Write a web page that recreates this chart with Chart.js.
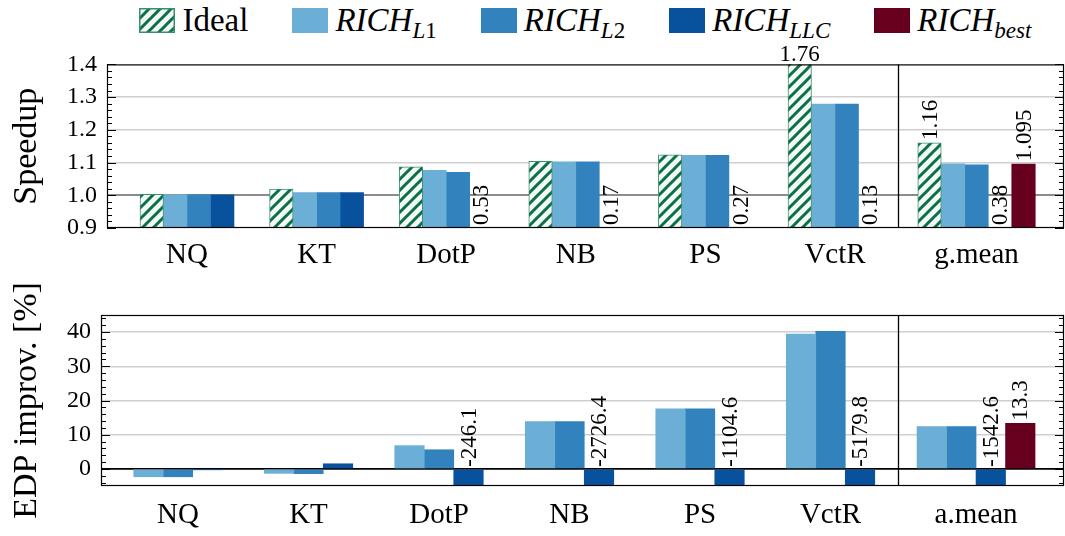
<!DOCTYPE html>
<html>
<head>
<meta charset="utf-8">
<title>RICH speedup and EDP improvement</title>
<script src="https://cdn.jsdelivr.net/npm/chart.js@4.4.1/dist/chart.umd.min.js"></script>
<style>
  html, body { margin: 0; padding: 0; background: #fff; }
  #fig { position: relative; width: 1065px; height: 536px; overflow: hidden;
         font-family: "Liberation Serif", "Times New Roman", serif; color: #000; }
  #legend { position: absolute; left: 107px; width: 957px; top: 2px; height: 36px;
            display: flex; justify-content: center; align-items: center; gap: 44px; font-size: 33px; }
  #legend .item { display: flex; align-items: center; gap: 7px; white-space: nowrap; line-height: 1; }
  #legend canvas { display: block; }
  #legend sub { font-size: 0.7em; vertical-align: -0.32em; line-height: 0; }
  #speedup { position: absolute; left: 0; top: 40px; }
  #edp { position: absolute; left: 0; top: 280px; }
</style>
</head>
<body>
<div id="fig">
  <div id="legend"></div>
  <canvas id="speedup" width="1065" height="240"></canvas>
  <canvas id="edp" width="1065" height="256"></canvas>
</div>
<script>
// ---- data -------------------------------------------------------------
const benchmarks = ['NQ', 'KT', 'DotP', 'NB', 'PS', 'VctR'];
const speedupMeanName = 'g.mean';
const edpMeanName = 'a.mean';
const seriesNames = ['Ideal', 'RICH_L1', 'RICH_L2', 'RICH_LLC', 'RICH_best'];

// speedup per benchmark, last entry is the geometric mean
const speedupIdeal = [1.003, 1.019, 1.087, 1.104, 1.124, 1.76, 1.16];
const speedupL1    = [1.001, 1.008, 1.076, 1.102, 1.122, 1.279, 1.096];
const speedupL2    = [1.001, 1.008, 1.070, 1.102, 1.122, 1.279, 1.093];
const speedupLLC   = [1.001, 1.008, 0.53, 0.17, 0.27, 0.13, 0.38];
const speedupBest  = [null, null, null, null, null, null, 1.095];

// EDP improvement in %, last entry is the arithmetic mean
const edpL1   = [-2.3, -1.3, 6.8, 13.8, 17.6, 39.4, 12.4];
const edpL2   = [-2.3, -1.4, 5.6, 13.8, 17.6, 40.2, 12.4];
const edpLLC  = [-0.2, 1.5, -246.1, -2726.4, -1104.6, -5179.8, -1542.6];
const edpBest = [null, null, null, null, null, null, 13.3];

const speedupTicks = [0.9, 1.0, 1.1, 1.2, 1.3, 1.4];
const edpTicks = [0, 10, 20, 30, 40];

// ---- styling ----------------------------------------------------------
const SERIF = '"Liberation Serif", "Times New Roman", serif';
Chart.defaults.font.family = SERIF;
Chart.defaults.color = '#000';

const BLUE_L1 = '#6baed6', BLUE_L2 = '#3182bd', BLUE_LLC = '#08519c', RED_BEST = '#67001f';
const GREEN = '#0b6e4f', GREEN_EDGE = '#3b8f6f', GREEN_BG = '#f3faf1';

function hatchPattern() {
  const s = 11;
  const tile = document.createElement('canvas');
  tile.width = s; tile.height = s;
  const g = tile.getContext('2d');
  g.fillStyle = GREEN_BG; g.fillRect(0, 0, s, s);
  g.strokeStyle = GREEN; g.lineWidth = 3;
  g.beginPath();
  g.moveTo(-2, s + 2); g.lineTo(s + 2, -2);
  g.moveTo(-2, 2); g.lineTo(2, -2);
  g.moveTo(s - 2, s + 2); g.lineTo(s + 2, s - 2);
  g.stroke();
  return g.createPattern(tile, 'repeat');
}
const IDEAL_FILL = hatchPattern();

const seriesStyle = {
  'Ideal':     { fill: IDEAL_FILL, border: GREEN_EDGE, meanLabel: true },
  'RICH_L1':   { fill: BLUE_L1 },
  'RICH_L2':   { fill: BLUE_L2 },
  'RICH_LLC':  { fill: BLUE_LLC },
  'RICH_best': { fill: RED_BEST, meanLabel: true }
};

// ---- plugins ----------------------------------------------------------
// frame, split line between benchmarks and mean, inward tick marks on both sides
const panelDecor = {
  id: 'panelDecor',
  afterDatasetsDraw(chart, args, o) {
    const { ctx, chartArea: a, scales: { x, y } } = chart;
    ctx.save();
    ctx.strokeStyle = '#000';
    ctx.lineWidth = 1;
    const step = o.minorStep;
    const start = Math.ceil(y.min / step - 1e-9);
    const end = Math.floor(y.max / step + 1e-9);
    ctx.beginPath();
    for (let k = start; k <= end; k++) {
      const v = k * step;
      const major = o.majors.some(t => Math.abs(t - v) < 1e-9);
      const len = major ? 9 : 5;
      const py = Math.round(y.getPixelForValue(v)) + 0.5;
      ctx.moveTo(a.left, py); ctx.lineTo(a.left + len, py);
      ctx.moveTo(a.right, py); ctx.lineTo(a.right - len, py);
    }
    ctx.stroke();
    ctx.lineWidth = 1.3;
    const sx = Math.round(x.getPixelForValue(o.split)) + 0.5;
    ctx.beginPath();
    ctx.moveTo(sx, a.top); ctx.lineTo(sx, a.bottom);
    ctx.stroke();
    ctx.lineWidth = 1.2;
    ctx.strokeRect(a.left + 0.5, a.top + 0.5, a.width - 1, a.height - 1);
    ctx.restore();
  }
};

// value labels: values outside the axis range, and the mean of Ideal / best
const valueLabels = {
  id: 'valueLabels',
  afterDatasetsDraw(chart, args, o) {
    const { ctx, chartArea: a, scales: { y } } = chart;
    ctx.save();
    ctx.fillStyle = '#000';
    ctx.font = o.font;
    chart.data.datasets.forEach((ds, di) => {
      const meta = chart.getDatasetMeta(di);
      ds.data.forEach((pt, i) => {
        if (pt.y === null || pt.y === undefined) return;
        const outside = pt.y < y.min || pt.y > y.max;
        const isMean = i === ds.data.length - 1;
        if (!outside && !(isMean && ds.meanLabel)) return;
        const bar = meta.data[i];
        const text = String(pt.y);
        if (pt.y > y.max) {
          ctx.textAlign = 'center';
          ctx.textBaseline = 'alphabetic';
          ctx.fillText(text, bar.x, a.top - 3);
          return;
        }
        const head = Math.min(bar.y, bar.base);
        const anchor = Math.min(Math.max(head, a.top), a.bottom);
        ctx.save();
        ctx.translate(bar.x, anchor - 3);
        ctx.rotate(-Math.PI / 2);
        ctx.textAlign = 'left';
        ctx.textBaseline = 'middle';
        ctx.fillText(text, 0, 1);
        ctx.restore();
      });
    });
    ctx.restore();
  }
};

// ---- panel builder ----------------------------------------------------
function buildPanel(canvas, p) {
  const names = benchmarks.concat([p.meanName]);
  const xs = benchmarks.map((_, i) => i).concat([p.meanPos]);
  return new Chart(canvas, {
    type: 'bar',
    data: {
      datasets: p.series.map(s => {
        const st = seriesStyle[s.name];
        return {
          label: s.name,
          data: s.values.map((v, i) => ({ x: xs[i], y: v })),
          backgroundColor: st.fill,
          borderColor: st.border || 'rgba(0,0,0,0)',
          borderWidth: st.border ? 1 : 0,
          barThickness: p.barWidth,
          skipNull: true,
          clip: 0,
          meanLabel: !!st.meanLabel
        };
      })
    },
    options: {
      responsive: false,
      animation: false,
      events: [],
      layout: { padding: { top: p.padTop, right: 1, left: 0, bottom: 0 } },
      plugins: {
        legend: { display: false },
        tooltip: { enabled: false },
        panelDecor: { minorStep: p.minorStep, majors: p.ticks, split: p.splitPos },
        valueLabels: { font: '23px ' + SERIF }
      },
      scales: {
        x: {
          type: 'linear',
          offset: false,
          bounds: 'data',
          min: p.xMin, max: p.xMax,
          grid: { display: false, drawTicks: false, offset: false },
          border: { display: false },
          afterBuildTicks: ax => { ax.ticks = xs.map(v => ({ value: v })); },
          afterFit: ax => { ax.height = p.xAxisHeight; },
          ticks: {
            autoSkip: false, maxRotation: 0, minRotation: 0,
            padding: p.xPad, font: { size: 29 }, color: '#000',
            callback: (v, i) => names[i]
          }
        },
        y: {
          min: p.yMin,
          max: p.yMax,
          afterBuildTicks: ax => { ax.ticks = p.ticks.map(v => ({ value: v })); },
          afterFit: ax => { ax.width = p.yAxisWidth; },
          border: { display: false },
          grid: {
            drawTicks: false,
            color: c => p.gridColor(c.tick.value),
            lineWidth: c => p.gridWidth(c.tick.value)
          },
          ticks: { padding: 10, font: { size: 24 }, color: '#000', callback: p.format },
          title: {
            display: true, text: p.title, color: '#000',
            font: { size: 34 }, padding: { top: 7, bottom: 0 }
          }
        }
      }
    },
    plugins: [panelDecor, valueLabels]
  });
}

const speedupPanel = {
  meanName: speedupMeanName,
  series: [
    { name: 'Ideal', values: speedupIdeal },
    { name: 'RICH_L1', values: speedupL1 },
    { name: 'RICH_L2', values: speedupL2 },
    { name: 'RICH_LLC', values: speedupLLC },
    { name: 'RICH_best', values: speedupBest }
  ],
  ticks: speedupTicks, yMin: 0.9, yMax: 1.4, minorStep: 0.02,
  format: v => v.toFixed(1),
  title: 'Speedup',
  gridColor: v => (v === 0.9 || v === 1.4) ? 'rgba(0,0,0,0)' : (v === 1.0 ? '#8c8c8c' : '#cfcfcf'),
  gridWidth: v => v === 1.0 ? 2 : 1.5,
  xMin: -0.617, xMax: 6.767, meanPos: 6.092, splitPos: 5.486,
  barWidth: 23.5, padTop: 18, xAxisHeight: 52, yAxisWidth: 107, xPad: 10
};

const edpPanel = {
  meanName: edpMeanName,
  series: [
    { name: 'RICH_L1', values: edpL1 },
    { name: 'RICH_L2', values: edpL2 },
    { name: 'RICH_LLC', values: edpLLC },
    { name: 'RICH_best', values: edpBest }
  ],
  ticks: edpTicks, yMin: -5, yMax: 45, minorStep: 2,
  format: v => String(v),
  title: 'EDP improv. [%]',
  gridColor: v => v === 0 ? '#000' : '#cfcfcf',
  gridWidth: v => v === 0 ? 1.8 : 1.5,
  xMin: -0.590, xMax: 6.789, meanPos: 6.115, splitPos: 5.517,
  barWidth: 29.5, padTop: 35, xAxisHeight: 50, yAxisWidth: 101, xPad: 12
};

// ---- legend (shared by both panels) -----------------------------------
(function buildLegend() {
  const box = document.getElementById('legend');
  seriesNames.forEach(name => {
    const st = seriesStyle[name];
    const item = document.createElement('div');
    item.className = 'item';
    const sw = document.createElement('canvas');
    sw.width = 36; sw.height = 25;
    const g = sw.getContext('2d');
    g.fillStyle = st.fill;
    g.fillRect(0, 0, 36, 25);
    if (st.border) { g.strokeStyle = st.border; g.lineWidth = 1.5; g.strokeRect(0.75, 0.75, 34.5, 23.5); }
    const label = document.createElement('span');
    const [base, sub] = name.split('_');
    if (sub) {
      const b = document.createElement('i'); b.textContent = base; label.appendChild(b);
      const s = document.createElement('sub');
      sub.split(/(\d+)/).filter(Boolean).forEach(part => {
        if (/^\d+$/.test(part)) s.appendChild(document.createTextNode(part));
        else { const it = document.createElement('i'); it.textContent = part; s.appendChild(it); }
      });
      label.appendChild(s);
    } else {
      label.textContent = base;
    }
    item.appendChild(sw); item.appendChild(label);
    box.appendChild(item);
  });
})();

// ---- draw once the serif face is available to the canvas --------------
const charts = [
  buildPanel(document.getElementById('speedup'), speedupPanel),
  buildPanel(document.getElementById('edp'), edpPanel)
];
Promise.all([
  document.fonts.load('24px "Liberation Serif"'),
  document.fonts.load('italic 24px "Liberation Serif"')
]).then(() => charts.forEach(c => c.update()));
document.fonts.ready.then(() => charts.forEach(c => c.update()));
</script>
</body>
</html>
